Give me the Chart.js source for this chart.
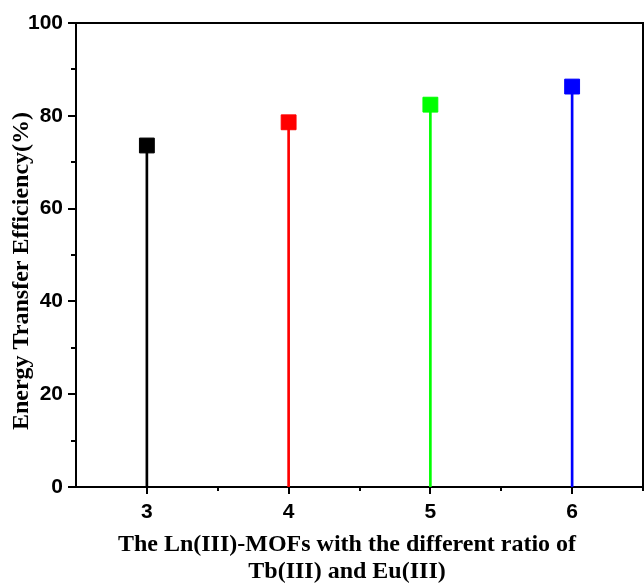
<!DOCTYPE html>
<html>
<head>
<meta charset="utf-8">
<script src="https://cdn.jsdelivr.net/npm/chart.js@4"></script>
<style>
  html, body { margin: 0; padding: 0; background: #fff; overflow: hidden; }
  canvas { display: block; }
</style>
</head>
<body>
<canvas id="efficiencyChart" width="644" height="585"></canvas>
<script>
// Data
const ratios = [3, 4, 5, 6];
const efficiency = [73.6, 78.6, 82.4, 86.3];
const colors = ["#000000", "#ff0000", "#00ff00", "#0000ff"];
const xTicks = [3, 4, 5, 6];
const yTicks = [0, 20, 40, 60, 80, 100];
const yTitle = "Energy Transfer Efficiency(%)";
const xTitle = ["The Ln(III)-MOFs with the different ratio of", "Tb(III) and Eu(III)"];

const points = ratios.map((r, i) => ({ x: r, y: efficiency[i] }));

// Frame, minor ticks and axis titles (Origin style)
const framePlugin = {
  id: "frame",
  afterDraw(chart) {
    const { ctx, chartArea: a, scales: { x, y } } = chart;
    ctx.save();
    ctx.strokeStyle = "#000";
    ctx.lineWidth = 2;
    ctx.beginPath();
    ctx.moveTo(a.left, a.top);
    ctx.lineTo(a.right, a.top);
    ctx.lineTo(a.right, a.bottom);
    for (let v = 0; v <= 100; v += 10) {
      const py = Math.round(y.getPixelForValue(v));
      ctx.moveTo(a.left, py);
      ctx.lineTo(a.left - (v % 20 ? 5 : 8), py);
    }
    for (let v = 3; v <= 6.5; v += 0.5) {
      const px = Math.round(x.getPixelForValue(v));
      ctx.moveTo(px, a.bottom);
      ctx.lineTo(px, a.bottom + (v % 1 ? 4 : 7));
    }
    ctx.stroke();

    ctx.fillStyle = "#000";
    ctx.font = 'bold 24px "Liberation Serif"';
    ctx.textAlign = "center";
    ctx.textBaseline = "alphabetic";
    xTitle.forEach((t, i) => ctx.fillText(t, 347, 551 + i * 27));
    ctx.translate(28, 271);
    ctx.rotate(-Math.PI / 2);
    ctx.fillText(yTitle, 0, 0);
    ctx.restore();
  },
};

const tickFont = { family: '"Liberation Sans", Arial, sans-serif', size: 21, weight: "bold" };

new Chart(document.getElementById("efficiencyChart"), {
  type: "scatter",
  data: {
    datasets: [
      {
        type: "scatter",
        data: points,
        pointStyle: "rect",
        pointRadius: 10.5,
        pointBorderWidth: 1,
        pointBackgroundColor: colors,
        pointBorderColor: colors,
        order: 0,
      },
      {
        type: "bar",
        data: points,
        backgroundColor: colors,
        barThickness: 2,
        order: 1,
      },
    ],
  },
  plugins: [framePlugin],
  options: {
    responsive: false,
    animation: false,
    events: [],
    layout: { autoPadding: false, padding: { top: 23, right: 1, bottom: 0, left: 0 } },
    plugins: { legend: { display: false }, tooltip: { enabled: false } },
    scales: {
      x: {
        type: "linear",
        min: 2.5,
        max: 6.5,
        offset: false,
        afterBuildTicks: (scale) => { scale.ticks = xTicks.map((v) => ({ value: v })); },
        afterFit: (scale) => {
          scale.height = 98;
          scale.paddingLeft = 0;
          scale.paddingRight = 0;
        },
        grid: { display: false, drawTicks: false },
        border: { display: true, color: "#000", width: 2 },
        ticks: { color: "#000", font: tickFont, padding: 13 },
      },
      y: {
        min: 0,
        max: 100,
        afterBuildTicks: (scale) => { scale.ticks = yTicks.map((v) => ({ value: v })); },
        afterFit: (scale) => {
          scale.width = 76;
          scale.paddingTop = 0;
          scale.paddingBottom = 0;
        },
        grid: { display: false, drawTicks: false },
        border: { display: true, color: "#000", width: 2 },
        ticks: { color: "#000", font: tickFont, padding: 13 },
      },
    },
  },
});
</script>
</body>
</html>
